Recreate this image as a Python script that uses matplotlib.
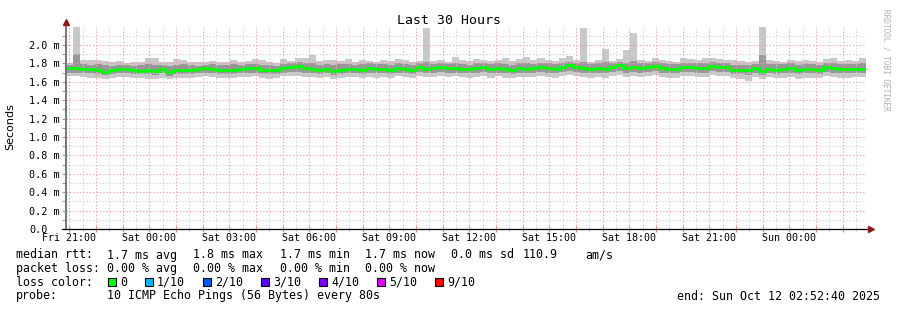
import numpy as np
import matplotlib.pyplot as plt
from matplotlib.patches import Rectangle
from matplotlib.ticker import FixedLocator, FixedFormatter

W, H = 897, 310
MONO = 'DejaVu Sans Mono'

# x axis: hours since Fri 20:52:40 (30 h window ending Sun 02:52:40)
span_h = 30
first_label_h = 7 / 60 + 20 / 3600
tick_labels = ['Fri 21:00', 'Sat 00:00', 'Sat 03:00', 'Sat 06:00', 'Sat 09:00',
               'Sat 12:00', 'Sat 15:00', 'Sat 18:00', 'Sat 21:00', 'Sun 00:00']

y_ticks = [0.0, 0.2, 0.4, 0.6, 0.8, 1.0, 1.2, 1.4, 1.6, 1.8, 2.0]
y_labels = ['0.0', '0.2 m', '0.4 m', '0.6 m', '0.8 m', '1.0 m',
            '1.2 m', '1.4 m', '1.6 m', '1.8 m', '2.0 m']

# rtt per 16 min bin, in ms
med = [1.75, 1.75, 1.74, 1.74, 1.73, 1.71, 1.73, 1.74, 1.74, 1.73,
       1.72, 1.73, 1.72, 1.74, 1.71, 1.73, 1.73, 1.73, 1.74, 1.75,
       1.74, 1.73, 1.73, 1.73, 1.74, 1.75, 1.75, 1.73, 1.73, 1.73,
       1.75, 1.76, 1.77, 1.75, 1.74, 1.73, 1.74, 1.72, 1.73, 1.74,
       1.74, 1.73, 1.75, 1.74, 1.74, 1.73, 1.75, 1.74, 1.73, 1.76,
       1.74, 1.75, 1.76, 1.75, 1.75, 1.74, 1.74, 1.75, 1.76, 1.74,
       1.75, 1.74, 1.73, 1.75, 1.74, 1.75, 1.76, 1.75, 1.74, 1.76,
       1.78, 1.76, 1.75, 1.74, 1.75, 1.74, 1.76, 1.78, 1.75, 1.76,
       1.75, 1.76, 1.77, 1.75, 1.74, 1.74, 1.76, 1.76, 1.75, 1.75,
       1.77, 1.76, 1.76, 1.73, 1.73, 1.73, 1.75, 1.72, 1.74, 1.73,
       1.74, 1.75, 1.73, 1.74, 1.74, 1.73, 1.76, 1.75, 1.74, 1.74,
       1.74, 1.74]

pmax = [1.80, 2.19, 1.84, 1.84, 1.84, 1.83, 1.81, 1.83, 1.80, 1.81,
        1.82, 1.86, 1.86, 1.81, 1.82, 1.85, 1.84, 1.81, 1.82, 1.81,
        1.83, 1.82, 1.82, 1.84, 1.82, 1.83, 1.85, 1.84, 1.82, 1.80,
        1.85, 1.83, 1.86, 1.86, 1.89, 1.83, 1.84, 1.84, 1.83, 1.85,
        1.82, 1.84, 1.83, 1.82, 1.84, 1.83, 1.85, 1.84, 1.82, 1.83,
        2.18, 1.83, 1.84, 1.82, 1.87, 1.84, 1.83, 1.85, 1.84, 1.83,
        1.84, 1.86, 1.83, 1.85, 1.87, 1.84, 1.86, 1.84, 1.83, 1.86,
        1.88, 1.84, 2.18, 1.82, 1.84, 1.96, 1.83, 1.85, 1.95, 2.13,
        1.84, 1.83, 1.86, 1.84, 1.83, 1.82, 1.86, 1.85, 1.84, 1.86,
        1.86, 1.85, 1.84, 1.84, 1.83, 1.82, 1.83, 2.19, 1.84, 1.83,
        1.82, 1.84, 1.83, 1.84, 1.83, 1.82, 1.85, 1.86, 1.83, 1.84,
        1.83, 1.86]

phi = [1.78, 1.90, 1.79, 1.78, 1.79, 1.78, 1.77, 1.78, 1.78, 1.77,
       1.78, 1.79, 1.78, 1.78, 1.77, 1.78, 1.79, 1.78, 1.77, 1.78,
       1.79, 1.78, 1.78, 1.79, 1.78, 1.79, 1.79, 1.78, 1.78, 1.77,
       1.79, 1.80, 1.81, 1.80, 1.80, 1.78, 1.79, 1.78, 1.79, 1.79,
       1.78, 1.79, 1.80, 1.79, 1.79, 1.78, 1.80, 1.79, 1.78, 1.80,
       1.82, 1.79, 1.80, 1.79, 1.80, 1.79, 1.78, 1.80, 1.80, 1.79,
       1.80, 1.79, 1.78, 1.80, 1.80, 1.79, 1.80, 1.80, 1.79, 1.80,
       1.82, 1.80, 1.81, 1.79, 1.80, 1.81, 1.80, 1.81, 1.80, 1.83,
       1.80, 1.80, 1.81, 1.80, 1.79, 1.79, 1.80, 1.80, 1.80, 1.80,
       1.81, 1.80, 1.80, 1.78, 1.78, 1.78, 1.79, 1.89, 1.79, 1.79,
       1.79, 1.80, 1.78, 1.79, 1.79, 1.78, 1.80, 1.80, 1.79, 1.79,
       1.79, 1.80]

plo = [1.70, 1.70, 1.69, 1.69, 1.68, 1.67, 1.68, 1.69, 1.69, 1.68,
       1.68, 1.68, 1.67, 1.69, 1.66, 1.68, 1.68, 1.68, 1.69, 1.70,
       1.69, 1.68, 1.68, 1.68, 1.69, 1.70, 1.70, 1.68, 1.68, 1.68,
       1.70, 1.71, 1.71, 1.70, 1.69, 1.68, 1.69, 1.67, 1.68, 1.69,
       1.69, 1.68, 1.70, 1.69, 1.69, 1.68, 1.70, 1.69, 1.68, 1.71,
       1.69, 1.70, 1.71, 1.70, 1.70, 1.69, 1.69, 1.70, 1.71, 1.69,
       1.70, 1.69, 1.68, 1.70, 1.69, 1.70, 1.71, 1.70, 1.69, 1.71,
       1.72, 1.71, 1.70, 1.69, 1.70, 1.69, 1.71, 1.72, 1.70, 1.71,
       1.70, 1.71, 1.72, 1.70, 1.69, 1.69, 1.71, 1.71, 1.70, 1.70,
       1.72, 1.71, 1.71, 1.68, 1.68, 1.67, 1.70, 1.67, 1.69, 1.68,
       1.69, 1.70, 1.68, 1.69, 1.69, 1.68, 1.71, 1.70, 1.69, 1.69,
       1.69, 1.69]

pmin = [1.66, 1.66, 1.65, 1.64, 1.64, 1.63, 1.64, 1.65, 1.65, 1.64,
        1.64, 1.63, 1.63, 1.64, 1.63, 1.64, 1.64, 1.64, 1.65, 1.66,
        1.65, 1.64, 1.64, 1.64, 1.65, 1.65, 1.66, 1.64, 1.63, 1.64,
        1.66, 1.66, 1.66, 1.65, 1.65, 1.64, 1.65, 1.63, 1.64, 1.65,
        1.65, 1.64, 1.65, 1.64, 1.65, 1.64, 1.66, 1.65, 1.64, 1.66,
        1.65, 1.65, 1.66, 1.65, 1.66, 1.65, 1.64, 1.65, 1.66, 1.64,
        1.66, 1.64, 1.64, 1.65, 1.65, 1.65, 1.66, 1.65, 1.64, 1.66,
        1.67, 1.66, 1.65, 1.64, 1.65, 1.64, 1.66, 1.67, 1.65, 1.66,
        1.65, 1.66, 1.67, 1.65, 1.64, 1.64, 1.66, 1.66, 1.65, 1.65,
        1.67, 1.66, 1.66, 1.64, 1.63, 1.61, 1.65, 1.63, 1.65, 1.64,
        1.64, 1.65, 1.63, 1.64, 1.64, 1.64, 1.66, 1.65, 1.64, 1.64,
        1.65, 1.65]

loss_colors = ['#00ff00', '#00b8ff', '#0059ff', '#5e00ff', '#7e00ff', '#dd00ff', '#ff0000']
loss_labels = ['0', '1/10', '2/10', '3/10', '4/10', '5/10', '9/10']


def fx(x):
    return x / W


def fy(y):
    return 1 - y / H


fig = plt.figure(figsize=(W / 100, H / 100), dpi=100)
fig.patch.set_facecolor('white')
ax = fig.add_axes([fx(66), fy(229), 800 / W, 202 / H])
ax.set_xlim(0, span_h)
ax.set_ylim(0, 2.195)

# smoke: full spread light, inner spread darker, median coloured by loss
edges = np.linspace(0, span_h, len(med) + 1)
ax.stairs(pmax, edges, baseline=pmin, fill=True, color='#c8c8c8', lw=0, zorder=1)
ax.stairs(phi, edges, baseline=plo, fill=True, color='#979797', lw=0, zorder=1.1)
ax.stairs(med, edges, baseline=None, color=loss_colors[0], lw=2.0, zorder=4)

# grid
hours = first_label_h + np.arange(0, span_h)
halves = first_label_h + 0.5 + np.arange(0, span_h)
ax.xaxis.set_major_locator(FixedLocator(hours))
ax.xaxis.set_minor_locator(FixedLocator(halves))
ax.xaxis.set_major_formatter(FixedFormatter(
    [tick_labels[i // 3] if i % 3 == 0 else '' for i in range(len(hours))]))
ax.yaxis.set_major_locator(FixedLocator(y_ticks))
ax.yaxis.set_minor_locator(FixedLocator(np.arange(0.1, 2.15, 0.2)))
ax.yaxis.set_major_formatter(FixedFormatter(y_labels))

ax.grid(which='major', color='#f2a0a0', lw=0.8, ls=(0, (1.2, 1.8)))
ax.grid(which='minor', color='#d2d2d2', lw=0.8, ls=(0, (1.2, 1.8)))
ax.set_axisbelow(False)

for s in ax.spines.values():
    s.set_visible(False)

ax.tick_params(axis='y', which='both', direction='out', length=3, width=0.8,
               color='#999999', pad=23.5, labelsize=7.3)
ax.tick_params(axis='x', which='major', direction='inout', length=4, width=0.8,
               color='#f08080', pad=1.2, labelsize=7.2)
ax.tick_params(axis='x', which='minor', direction='inout', length=3, width=0.8,
               color='#bbbbbb')
for lab in ax.get_yticklabels():
    lab.set_ha('left')
    lab.set_family(MONO)
for lab in ax.get_xticklabels():
    lab.set_family(MONO)

# axis lines with arrows
ax.plot([0, 0], [0, 1.02], transform=ax.transAxes, color='#777777', lw=1.4,
        clip_on=False, zorder=5)
ax.plot([-0.005, 1.004], [0, 0], transform=ax.transAxes, color='black', lw=0.9,
        clip_on=False, zorder=5)
ax.plot([0], [1.025], transform=ax.transAxes, marker='^', ms=5, color='#8b1a1a',
        clip_on=False, zorder=6)
ax.plot([1.006], [0], transform=ax.transAxes, marker='>', ms=5, color='#8b1a1a',
        clip_on=False, zorder=6)

fig.text(fx(448.5), fy(20), 'Last 30 Hours', family=MONO, fontsize=9.5,
         ha='center', va='center')
fig.text(fx(10.5), fy(127), 'Seconds', fontsize=8, rotation=90,
         ha='center', va='center')
fig.text(fx(886), fy(60), 'RRDTOOL / TOBI OETIKER', family=MONO, fontsize=5.6,
         rotation=270, color='#b0b0b0', ha='center', va='center')

# legend block
lg = dict(family=MONO, fontsize=8.4, va='center')
row1 = [(16, 'median rtt:'), (107, '1.7 ms avg'), (193, '1.8 ms max'),
        (280, '1.7 ms min'), (365, '1.7 ms now'), (451, '0.0 ms sd'),
        (523, '110.9'), (585, 'am/s')]
row2 = [(16, 'packet loss:'), (107, '0.00 % avg'), (193, '0.00 % max'),
        (280, '0.00 % min'), (365, '0.00 % now')]
for x, t in row1:
    fig.text(fx(x), fy(255), t, **lg)
for x, t in row2:
    fig.text(fx(x), fy(268.5), t, **lg)

fig.text(fx(16), fy(282), 'loss color:', **lg)
sq_x = [108, 145, 203, 261, 319, 377, 435]
for x, c, t in zip(sq_x, loss_colors, loss_labels):
    fig.add_artist(Rectangle((fx(x), fy(286)), 8 / W, 8 / H, facecolor=c,
                             edgecolor='black', lw=0.8, transform=fig.transFigure))
    fig.text(fx(x + 12), fy(282), t, **lg)

fig.text(fx(16), fy(296), 'probe:', **lg)
fig.text(fx(107), fy(296), '10 ICMP Echo Pings (56 Bytes) every 80s', **lg)
fig.text(fx(880), fy(296), 'end: Sun Oct 12 02:52:40 2025', ha='right', **lg)

fig.savefig('out.png', dpi=100)
